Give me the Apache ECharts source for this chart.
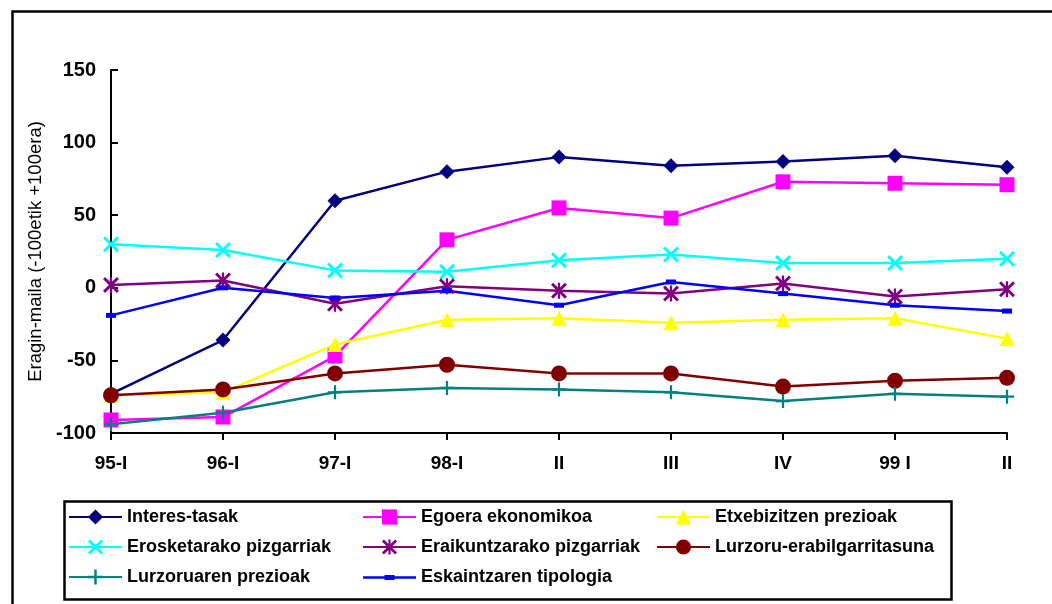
<!DOCTYPE html>
<html>
<head>
<meta charset="utf-8">
<script src="https://cdn.jsdelivr.net/npm/echarts@6/dist/echarts.min.js"></script>
<style>
  html, body { margin: 0; padding: 0; background: #fff; }
  #chart { width: 1052px; height: 604px; }
</style>
</head>
<body>
<div id="chart"></div>
<script>
// Periods on the horizontal axis
const periods = ['95-I', '96-I', '97-I', '98-I', 'II', 'III', 'IV', '99 I', 'II'];

// Impact level of each factor (-100 .. +100)
const interesTasak      = [-73, -36, 60, 80, 90, 84, 87, 91, 83];
const egoeraEkonomikoa  = [-91, -89, -47, 33, 55, 48, 73, 72, 71];
const etxebizitzenPrez  = [-74, -72, -39, -22, -21, -24, -22, -21, -35];
const erosketarakoPiz   = [30, 26, 12, 11, 19, 23, 17, 17, 20];
const eraikuntzarakoPiz = [2, 5, -11, 1, -2, -4, 3, -6, -1];
const lurzoruErabil     = [-74, -70, -59, -53, -59, -59, -68, -64, -62];
const lurzoruarenPrez   = [-94, -86, -72, -69, -70, -72, -78, -73, -75];
const eskaintzarenTip   = [-19, 0, -7, -2, -12, 4, -4, -12, -16];

const yTicks = { min: -100, max: 150, step: 50 };

// Marker outlines drawn as filled shapes in a 20x20 box
const xMark    = 'path://M2.6,0L10,7.4L17.4,0L20,2.6L12.6,10L20,17.4L17.4,20L10,12.6L2.6,20L0,17.4L7.4,10L0,2.6Z';
const starMark = 'path://M2.6,0L10,7.4L17.4,0L20,2.6L12.6,10L20,17.4L17.4,20L10,12.6L2.6,20L0,17.4L7.4,10L0,2.6Z M8.6,0L11.4,0L11.4,20L8.6,20Z';
const plusMark = 'path://M8.4,0L11.6,0L11.6,8.4L20,8.4L20,11.6L11.6,11.6L11.6,20L8.4,20L8.4,11.6L0,11.6L0,8.4L8.4,8.4Z';
// Legend key for the dash-marker series: line with a short bar in the middle (53x19 box)
const dashKey  = 'path://M0,0L0.01,0L0.01,0.01Z M0,19L0.01,19L0.01,18.99Z M0,8.3L53,8.3L53,10.7L0,10.7Z M21.5,7L31.5,7L31.5,12L21.5,12Z';

function line(name, data, color, symbol, size) {
  return {
    name: name,
    type: 'line',
    data: data,
    symbol: symbol,
    symbolSize: size,
    showAllSymbol: true,
    lineStyle: { color: color, width: 2.5 },
    itemStyle: { color: color },
    emphasis: { disabled: true }
  };
}

const series = [
  line('Interes-tasak', interesTasak, '#000080', 'diamond', 15),
  line('Egoera ekonomikoa', egoeraEkonomikoa, '#FF00FF', 'rect', 15),
  line('Etxebizitzen prezioak', etxebizitzenPrez, '#FFFF00', 'triangle', 15),
  line('Erosketarako pizgarriak', erosketarakoPiz, '#00FFFF', xMark, 16),
  line('Eraikuntzarako pizgarriak', eraikuntzarakoPiz, '#800080', starMark, 16),
  line('Lurzoru-erabilgarritasuna', lurzoruErabil, '#800000', 'circle', 16),
  line('Lurzoruaren prezioak', lurzoruarenPrez, '#008080', plusMark, 14),
  line('Eskaintzaren tipologia', eskaintzarenTip, '#0000FF', 'rect', [10, 5])
];

const legendText = {
  color: '#000',
  fontFamily: 'Liberation Sans, Arial, sans-serif',
  fontWeight: 'bold',
  fontSize: 18,
  lineHeight: 18
};

function legendColumn(left, names) {
  return {
    orient: 'vertical',
    left: left,
    top: 508,
    padding: 0,
    itemWidth: 53,
    itemHeight: 19,
    itemGap: 12,
    selectedMode: false,
    textStyle: legendText,
    data: names
  };
}

const chart = echarts.init(document.getElementById('chart'), null, { renderer: 'canvas' });

chart.setOption({
  animation: false,
  backgroundColor: '#fff',
  grid: { left: 111, right: 45, top: 70, bottom: 171, containLabel: false },
  xAxis: {
    type: 'category',
    data: periods,
    boundaryGap: false,
    axisLine: { onZero: false, lineStyle: { color: '#000', width: 2 } },
    axisTick: { show: true, length: 7, lineStyle: { color: '#000', width: 2 } },
    axisLabel: {
      color: '#000',
      fontFamily: 'Liberation Sans, Arial, sans-serif',
      fontWeight: 'bold',
      fontSize: 19,
      margin: 21,
      interval: 0
    },
    splitLine: { show: false }
  },
  yAxis: {
    type: 'value',
    min: yTicks.min,
    max: yTicks.max,
    interval: yTicks.step,
    name: 'Eragin-maila (-100etik +100era)',
    nameLocation: 'middle',
    nameRotate: 90,
    nameGap: 63,
    nameTextStyle: {
      color: '#000',
      fontFamily: 'Liberation Sans, Arial, sans-serif',
      fontSize: 18.5
    },
    axisLine: { show: true, lineStyle: { color: '#000', width: 2 } },
    axisTick: { show: true, inside: true, length: 7, lineStyle: { color: '#000', width: 2 } },
    axisLabel: {
      color: '#000',
      fontFamily: 'Liberation Sans, Arial, sans-serif',
      fontWeight: 'bold',
      fontSize: 20,
      margin: 15
    },
    splitLine: { show: false }
  },
  legend: [
    legendColumn(68, ['Interes-tasak', 'Erosketarako pizgarriak', 'Lurzoruaren prezioak']),
    legendColumn(362, ['Egoera ekonomikoa', 'Eraikuntzarako pizgarriak',
      { name: 'Eskaintzaren tipologia', icon: dashKey, itemStyle: { color: '#0000FF' } }]),
    legendColumn(656, ['Etxebizitzen prezioak', 'Lurzoru-erabilgarritasuna'])
  ],
  graphic: [
    {
      type: 'rect',
      left: 10, top: 9,
      shape: { width: 1080, height: 640 },
      style: { fill: null, stroke: '#000', lineWidth: 2.5 },
      silent: true
    },
    {
      type: 'rect',
      left: 62, top: 499,
      shape: { width: 887, height: 98 },
      style: { fill: null, stroke: '#000', lineWidth: 2.5 },
      silent: true
    }
  ],
  series: series
});
</script>
</body>
</html>
